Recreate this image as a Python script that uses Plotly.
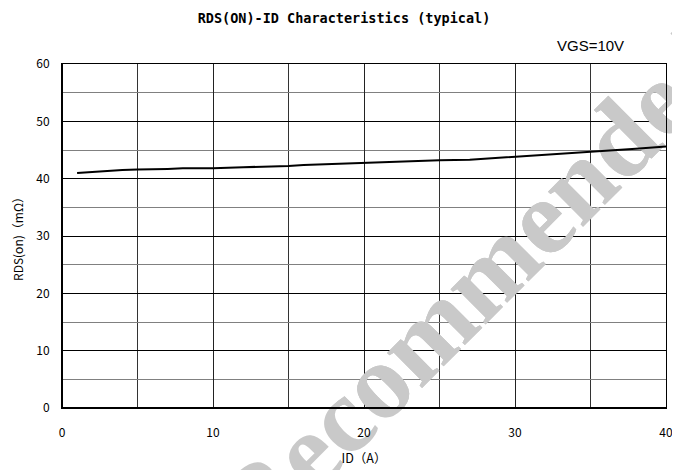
import plotly.graph_objects as go

# Data
id_a = [1, 2, 3, 4, 5, 6, 7, 8, 10, 12, 15, 16, 18, 20, 22, 25, 27, 30, 33, 35, 38, 40]
rds_on = [41.0, 41.2, 41.4, 41.5, 41.6, 41.6, 41.7, 41.8, 41.8, 42.0, 42.2, 42.4, 42.6,
          42.8, 42.9, 43.2, 43.3, 43.8, 44.3, 44.7, 45.2, 45.6]

x_ticks = [0, 10, 20, 30, 40]
y_ticks = [0, 10, 20, 30, 40, 50, 60]

title_text = "<b>RDS(ON)-ID Characteristics (typical)</b>"
condition_text = "VGS=10V"
x_title = "ID（A）"
y_title = "RDS(on)（mΩ）"
watermark_text = "Recommended for"

tick_font = dict(family="Noto Sans CJK JP", size=12, color="#000000")

# watermark placement (fraction of plot area) and style
wm_cx, wm_cy, wm_half = 0.766, 0.556, 0.02
wm_label = dict(text=watermark_text, textangle=-45, textposition="middle center",
                font=dict(family="Liberation Serif", size=108, color="#c9c9c9", weight="bold"))

fig = go.Figure()
fig.add_trace(go.Scatter(
    x=id_a, y=rds_on, mode="lines",
    line=dict(color="#000000", width=2),
    showlegend=False, hoverinfo="skip",
))

x_range = [0, 40]
y_range = [0, 60]

fig.update_layout(
    width=672, height=462,
    margin=dict(l=54, r=7, t=56, b=58),
    paper_bgcolor="#ffffff", plot_bgcolor="#ffffff",
    title=dict(text=title_text, x=0.5, xanchor="center", y=1 - 10 / 462, yanchor="middle",
               font=dict(family="DejaVu Sans Mono", size=13.5, color="#000000")),
    xaxis=dict(
        range=x_range, tickvals=x_ticks, ticktext=[str(v) for v in x_ticks],
        showgrid=True, gridcolor="#222222", gridwidth=1,
        minor=dict(dtick=5, tick0=0, showgrid=True, gridcolor="#333333", gridwidth=1),
        showline=True, linecolor="#000000", linewidth=1, mirror=True,
        ticks="", tickfont=tick_font, ticklabelstandoff=14,
        zeroline=False,
        title=dict(text=x_title, font=dict(family="Noto Sans CJK JP", size=12.5, color="#000000"),
                   standoff=14),
    ),
    yaxis=dict(
        range=y_range, tickvals=y_ticks, ticktext=[str(v) for v in y_ticks],
        showgrid=True, gridcolor="#000000", gridwidth=1.2,
        minor=dict(dtick=5, tick0=0, showgrid=True, gridcolor="#808080", gridwidth=1.3),
        showline=True, linecolor="#000000", linewidth=1, mirror=True,
        ticks="", tickfont=tick_font, ticklabelstandoff=9,
        zeroline=False,
        title=dict(text=y_title, font=dict(family="Noto Sans CJK JP", size=12, color="#000000"),
                   standoff=10),
    ),
    shapes=[
        # watermark part outside the plot area (paper layer, unclipped)
        dict(type="rect", xref="paper", yref="paper",
             x0=wm_cx - wm_half, x1=wm_cx + wm_half, y0=wm_cy - wm_half, y1=wm_cy + wm_half,
             line=dict(width=0), fillcolor="rgba(0,0,0,0)", layer="below", label=wm_label),
        # watermark inside the plot area: above grid, below the curve
        dict(type="rect", xref="x", yref="y",
             x0=x_range[0] + (wm_cx - wm_half) * (x_range[1] - x_range[0]),
             x1=x_range[0] + (wm_cx + wm_half) * (x_range[1] - x_range[0]),
             y0=y_range[0] + (wm_cy - wm_half) * (y_range[1] - y_range[0]),
             y1=y_range[0] + (wm_cy + wm_half) * (y_range[1] - y_range[0]),
             line=dict(width=0), fillcolor="rgba(0,0,0,0)", layer="between", label=wm_label),
        # thicker left and bottom frame lines
        dict(type="line", xref="x domain", yref="y domain", x0=0, x1=1, y0=0, y1=0,
             line=dict(color="#000000", width=2), layer="above"),
        dict(type="line", xref="x domain", yref="y domain", x0=0, x1=0, y0=0, y1=1,
             line=dict(color="#000000", width=2), layer="above"),
    ],
    annotations=[
        dict(text=condition_text, xref="paper", yref="paper", x=0.933,
             y=1.0546, xanchor="right", yanchor="middle", showarrow=False,
             font=dict(family="Liberation Sans", size=15, color="#000000")),
    ],
)

fig.write_html("out.html")
